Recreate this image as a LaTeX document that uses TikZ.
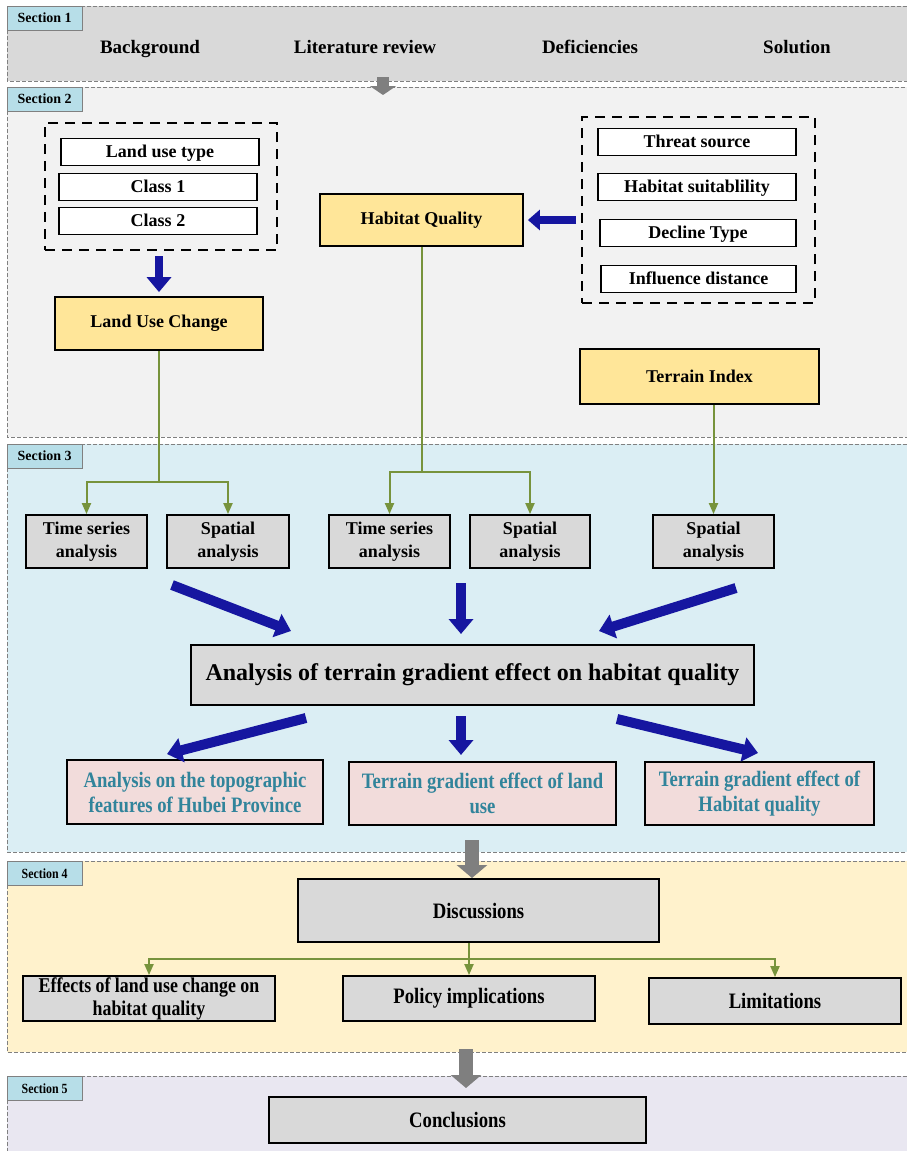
\documentclass[tikz,border=0pt]{standalone}
\usepackage{fontspec}
\setmainfont{Liberation Serif}
\newfontfamily\narrowFont[FakeStretch=0.85]{Liberation Serif}
\usetikzlibrary{positioning, arrows.meta}

\definecolor{sectionOneColor}{RGB}{217,217,217}
\definecolor{sectionTwoColor}{RGB}{242,242,242}
\definecolor{sectionThreeColor}{RGB}{219,238,244}
\definecolor{sectionFourColor}{RGB}{255,242,204}
\definecolor{sectionFiveColor}{RGB}{233,231,241}
\definecolor{sectionLine}{RGB}{128,128,128}
\definecolor{labelColor}{RGB}{183,222,232}
\definecolor{boxGray}{RGB}{217,217,217}
\definecolor{boxYellow}{RGB}{255,230,153}
\definecolor{boxPink}{RGB}{242,220,219}
\definecolor{textTeal}{RGB}{49,132,155}
\definecolor{arrowBlue}{RGB}{22,22,160}
\definecolor{arrowGray}{RGB}{127,127,127}
\definecolor{lineGreen}{RGB}{119,147,60}

\tikzstyle{flowChart} = [x = 1pt, y = -1pt, font=\bfseries]
\tikzstyle{sectionStyle} = [draw=sectionLine, dash pattern=on 4pt off 2pt, line width=.8pt]
\tikzstyle{sectionLabelStyle} = [draw=sectionLine, fill=labelColor, anchor=north west, minimum width=75pt, minimum height=24pt, inner sep=0pt, font=\fontsize{14}{16}\selectfont\bfseries]
\tikzstyle{topicText} = [anchor=base, font=\fontsize{19}{22}\selectfont\bfseries]
\tikzstyle{itemBox} = [draw, line width=1.8pt, inner sep=0pt, align=center, font=\fontsize{18}{23}\selectfont\bfseries]
\tikzstyle{whiteBox} = [itemBox, fill=white, minimum width=198pt, minimum height=27pt, text depth=2pt]
\tikzstyle{grayBox} = [itemBox, fill=boxGray]
\tikzstyle{yellowBox} = [itemBox, fill=boxYellow]
\tikzstyle{pinkBox} = [itemBox, fill=boxPink, text=textTeal, font=\fontsize{22}{25}\selectfont\narrowFont\bfseries]
\tikzstyle{narrowBox} = [grayBox, font=\fontsize{22}{25}\selectfont\narrowFont\bfseries]
\tikzstyle{groupFrame} = [draw, line width=2pt, dash pattern=on 10pt off 7pt, inner sep=0pt]
\tikzstyle{blueArrow} = [draw=arrowBlue, line width=10pt, -{Triangle[length=15pt, width=24pt]}]
\tikzstyle{grayArrow} = [draw=arrowGray, line width=14pt, -{Triangle[length=13pt, width=30pt]}]
\tikzstyle{greenLine} = [draw=lineGreen, line width=2pt, -{Triangle[length=11pt, width=9pt]}]

\newcommand{\sectionFrame}[5]{
  \filldraw [sectionStyle, fill=#3] (7, #1) rectangle (910, #2);
  \node [sectionLabelStyle] (sectionLabel#4) at (7, #1) {#5Section #4};
}

\begin{document}
\begin{tikzpicture}[flowChart]
  \useasboundingbox (0,0) rectangle (907,1151);
  \sectionFrame{6}{81}{sectionOneColor}{1}{}
  \sectionFrame{87}{437}{sectionTwoColor}{2}{}
  \sectionFrame{444}{852}{sectionThreeColor}{3}{}
  \sectionFrame{861}{1052}{sectionFourColor}{4}{\narrowFont}
  \sectionFrame{1076}{1160}{sectionFiveColor}{5}{\narrowFont}

  \node [topicText] (background) at (150,53) {Background};
  \node [topicText] (literature) at (365,53) {Literature review};
  \node [topicText] (deficiencies) at (590,53) {Deficiencies};
  \node [topicText] (solution) at (797,53) {Solution};

  \node [groupFrame, minimum width=232pt, minimum height=127pt] (landGroup) at (161,186.5) {};
  \node [whiteBox] (landType) at (160,152) {Land use type};
  \node [whiteBox] (classOne) at (158,187) {Class 1};
  \node [whiteBox] (classTwo) at (158,221) {Class 2};
  \node [yellowBox, minimum width=208pt, minimum height=53pt] (landChange) at (159,323.5) {Land Use Change};

  \node [yellowBox, minimum width=203pt, minimum height=52pt] (habitatQuality) at (421.5,220) {Habitat Quality};
  \node [groupFrame, minimum width=233pt, minimum height=186pt] (threatGroup) at (698.5,210) {};
  \node [whiteBox] (threatSource) at (697,142) {Threat source};
  \node [whiteBox] (suitability) at (697,187) {Habitat suitablility};
  \node [whiteBox, minimum width=196pt] (declineType) at (698,233) {Decline Type};
  \node [whiteBox, minimum width=195pt] (influenceDistance) at (698.5,279) {Influence distance};
  \node [yellowBox, minimum width=239pt, minimum height=55pt] (terrainIndex) at (699.5,376.5) {Terrain Index};

  \draw [blueArrow, line width=8pt, shorten <=5pt, shorten >=4pt] (landGroup.south -| landChange.north) -- (landChange.north);
  \draw [blueArrow, line width=8pt, -{Triangle[length=12pt, width=20pt]}, shorten <=5pt, shorten >=4pt] (threatGroup.west |- habitatQuality.east) -- (habitatQuality.east);

  \node [grayBox, minimum width=121pt, minimum height=53pt] (timeSeriesA) at (86.5,541.5) {Time series\\analysis};
  \node [grayBox, minimum width=122pt, minimum height=53pt] (spatialA) at (228,541.5) {Spatial\\analysis};
  \node [grayBox, minimum width=121pt, minimum height=53pt] (timeSeriesB) at (389.5,541.5) {Time series\\analysis};
  \node [grayBox, minimum width=120pt, minimum height=53pt] (spatialB) at (530,541.5) {Spatial\\analysis};
  \node [grayBox, minimum width=121pt, minimum height=53pt] (spatialC) at (713.5,541.5) {Spatial\\analysis};

  \draw [greenLine] (landChange.south) -- ++(0,131) coordinate (landSplit) -| (timeSeriesA.north);
  \draw [greenLine] (landSplit) -| (spatialA.north);
  \draw [greenLine] (habitatQuality.south) -- ++(0,225) coordinate (habitatSplit) -| (timeSeriesB.north);
  \draw [greenLine] (habitatSplit) -| (spatialB.north);
  \draw [greenLine] (spatialC.north |- terrainIndex.south) -- (spatialC.north);

  \node [grayBox, minimum width=563pt, minimum height=60pt, font=\fontsize{24}{28}\selectfont\bfseries] (analysisMain) at (472.5,675) {Analysis of terrain gradient effect on habitat quality};

  \node [pinkBox, minimum width=256pt, minimum height=64pt] (topoFeatures) at (195,792) {Analysis on the topographic\\features of Hubei Province};
  \node [pinkBox, minimum width=267pt, minimum height=63pt] (landGradient) at (482.5,793.5) {Terrain gradient effect of land\\use};
  \node [pinkBox, minimum width=229pt, minimum height=63pt] (habitatGradient) at (759.5,793.5) {Terrain gradient effect of\\Habitat quality};

  \coordinate (leftInStart) at (172,585);
  \coordinate (leftInEnd) at (291,631);
  \coordinate (midInStart) at (461,583);
  \coordinate (midInEnd) at (461,634);
  \coordinate (rightInStart) at (736,588);
  \coordinate (rightInEnd) at (599,631);
  \coordinate (leftOutStart) at (306,718);
  \coordinate (leftOutEnd) at (167,754);
  \coordinate (midOutStart) at (461,716);
  \coordinate (midOutEnd) at (461,755);
  \coordinate (rightOutStart) at (617,719);
  \coordinate (rightOutEnd) at (758,753);
  \foreach \arrowName in {leftIn, midIn, rightIn, leftOut, midOut, rightOut} {
    \draw [blueArrow] (\arrowName Start) -- (\arrowName End);
  }

  \node [narrowBox, minimum width=361pt, minimum height=63pt] (discussions) at (478.5,910.5) {Discussions};
  \node [narrowBox, minimum width=252pt, minimum height=45pt, font=\fontsize{21}{23}\selectfont\narrowFont\bfseries] (landEffects) at (149,998.5) {Effects of land use change on\\habitat quality};
  \node [narrowBox, minimum width=252pt, minimum height=45pt] (policy) at (469,998.5) {Policy implications};
  \node [narrowBox, minimum width=252pt, minimum height=46pt] (limitations) at (775,1001) {Limitations};
  \draw [greenLine] (policy.north |- discussions.south) -- ++(0,16) coordinate (discussionSplit) -- (policy.north);
  \draw [greenLine] (discussionSplit) -| (landEffects.north);
  \draw [greenLine] (discussionSplit) -| (limitations.north);

  \node [narrowBox, minimum width=377pt, minimum height=46pt] (conclusions) at (457.5,1120) {Conclusions};

  \coordinate (flowOneTop) at (383,77);
  \coordinate (flowOneEnd) at (383,95);
  \coordinate (flowThreeTop) at (472,840);
  \coordinate (flowThreeEnd) at (472,878);
  \coordinate (flowFourTop) at (466,1049);
  \coordinate (flowFourEnd) at (466,1088);
  \draw [grayArrow, line width=12pt, -{Triangle[length=9pt, width=26pt]}] (flowOneTop) -- (flowOneEnd);
  \draw [grayArrow] (flowThreeTop) -- (flowThreeEnd);
  \draw [grayArrow] (flowFourTop) -- (flowFourEnd);
\end{tikzpicture}
\end{document}
